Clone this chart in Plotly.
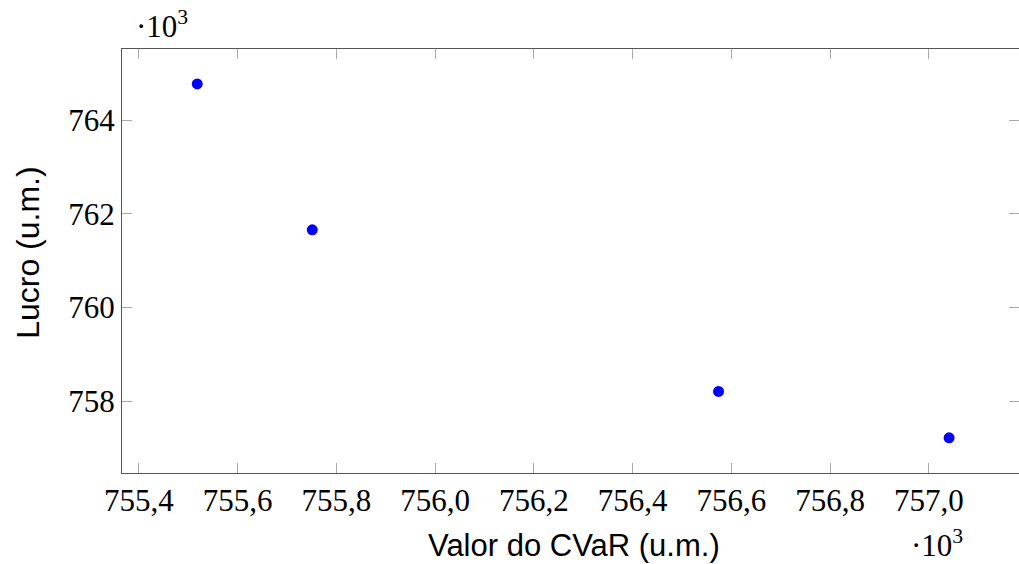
import plotly.graph_objects as go

cvar = [755.518, 755.751, 756.574, 757.041]
lucro = [764.774, 761.66, 758.21, 757.22]

x_ticks = [755.4, 755.6, 755.8, 756.0, 756.2, 756.4, 756.6, 756.8, 757.0]
y_ticks = [758, 760, 762, 764]

fig = go.Figure()
fig.add_trace(go.Scatter(
    x=cvar, y=lucro, mode="markers",
    marker=dict(color="#0000ff", size=11, line=dict(width=0)),
    showlegend=False,
))

serif = "Liberation Serif"
sans = "Liberation Sans"

fig.update_layout(
    width=1019, height=564,
    margin=dict(l=122, r=0, t=49, b=91),
    paper_bgcolor="white", plot_bgcolor="white",
    separators=",.",
    xaxis=dict(
        range=[755.3656, 757.1826],
        tickvals=x_ticks, tickformat=".1f",
        ticks="inside", ticklen=10, tickcolor="#aaaaaa", tickwidth=1.2,
        showline=True, linecolor="#555555", linewidth=1.3, mirror="ticks",
        showgrid=False, zeroline=False,
        tickfont=dict(family=serif, size=31, color="black"),
    ),
    yaxis=dict(
        range=[756.47, 765.52],
        tickvals=y_ticks, tickformat="d",
        ticks="inside", ticklen=10, tickcolor="#aaaaaa", tickwidth=1.2,
        showline=True, linecolor="#555555", linewidth=1.3, mirror="ticks",
        showgrid=False, zeroline=False,
        tickfont=dict(family=serif, size=31, color="black"),
    ),
    annotations=[
        dict(text="Valor do CVaR (u.m.)", xref="paper", yref="paper",
             x=(574 - 122) / (1019 - 122), y=-(546 - 473.3) / (473.3 - 49),
             xanchor="center", yanchor="middle", showarrow=False,
             font=dict(family=sans, size=31, color="black")),
        dict(text="Lucro (u.m.)", xref="paper", yref="paper",
             x=-(122 - 28) / (1019 - 122), y=(473.3 - 253) / (473.3 - 49),
             xanchor="center", yanchor="middle", showarrow=False, textangle=-90,
             font=dict(family=sans, size=32, color="black")),
        dict(text="·10<sup>3</sup>", xref="paper", yref="paper",
             x=(134 - 122) / (1019 - 122), y=(473.3 - 24) / (473.3 - 49),
             xanchor="left", yanchor="middle", showarrow=False,
             font=dict(family=serif, size=31, color="black")),
        dict(text="·10<sup>3</sup>", xref="paper", yref="paper",
             x=(909 - 122) / (1019 - 122), y=-(544 - 473.3) / (473.3 - 49),
             xanchor="left", yanchor="middle", showarrow=False,
             font=dict(family=serif, size=31, color="black")),
    ],
)

fig.write_html("out.html")
